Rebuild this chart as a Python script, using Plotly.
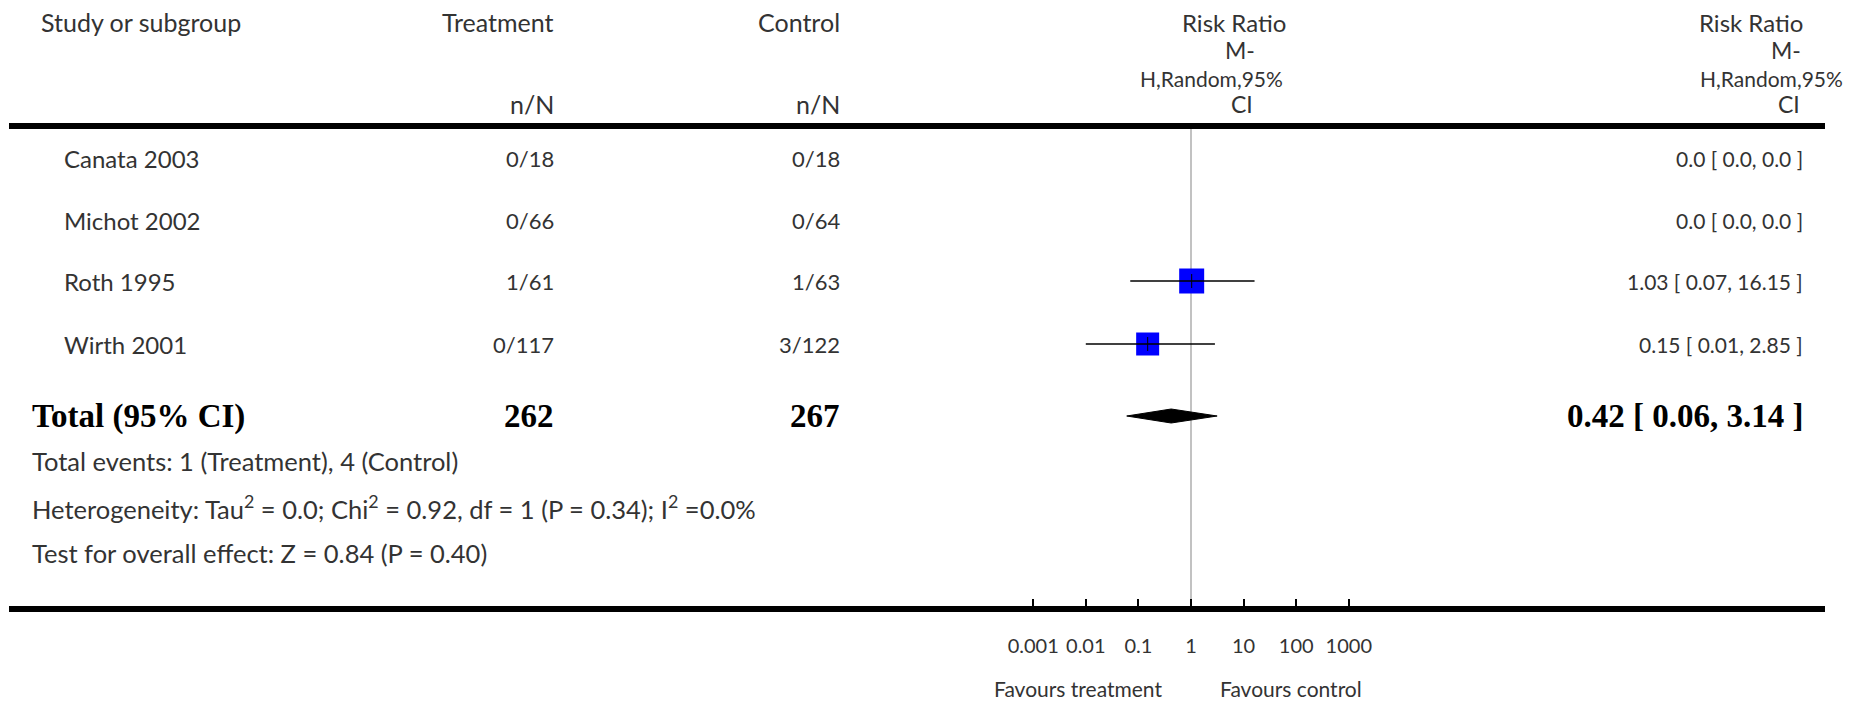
import plotly.graph_objects as go

# ---------------- data ----------------
studies = ["Canata 2003", "Michot 2002", "Roth 1995", "Wirth 2001"]
treat_nN = ["0/18", "0/66", "1/61", "0/117"]
ctrl_nN = ["0/18", "0/64", "1/63", "3/122"]
rr = [None, None, 1.03, 0.15]
rr_lo = [None, None, 0.07, 0.01]
rr_hi = [None, None, 16.15, 2.85]
box_size = [0, 0, 25, 23]
ci_text = ["0.0 [ 0.0, 0.0 ]", "0.0 [ 0.0, 0.0 ]", "1.03 [ 0.07, 16.15 ]", "0.15 [ 0.01, 2.85 ]"]

total_label = "Total (95% CI)"
total_treat = "262"
total_ctrl = "267"
total_rr = 0.42
total_lo = 0.06
total_hi = 3.14
total_text = "0.42 [ 0.06, 3.14 ]"

footnotes = [
    "Total events: 1 (Treatment), 4 (Control)",
    "Heterogeneity: Tau<sup>2</sup> = 0.0; Chi<sup>2</sup> = 0.92, df = 1 (P = 0.34); I<sup>2</sup> =0.0%",
    "Test for overall effect: Z = 0.84 (P = 0.40)",
]

tick_vals = [0.001, 0.01, 0.1, 1, 10, 100, 1000]
tick_text = ["0.001", "0.01", "0.1", "1", "10", "100", "1000"]

# ---------------- layout helpers ----------------
W, H = 1862, 702
FONT = "Lato, 'Open Sans', sans-serif"
SERIF = "'Liberation Serif', 'DejaVu Serif', serif"
TXT = "#333333"

x_one = 1191.0       # pixel of RR = 1
decade = 52.6        # pixels per decade
r0 = -x_one / decade
r1 = r0 + W / decade

row_y = [158, 220, 281, 344]
total_y = 416
foot_y = [461, 507, 553]
top_line_y = 126
axis_y = 609

fig = go.Figure()

# vertical reference line at RR = 1
fig.add_trace(go.Scatter(x=[1, 1], y=[top_line_y, axis_y], mode="lines",
                         line=dict(color="#999999", width=1.2), hoverinfo="skip", showlegend=False))

# study boxes and CIs
for i in range(len(studies)):
    if rr[i] is None:
        continue
    y = row_y[i]
    fig.add_trace(go.Scatter(x=[rr[i]], y=[y], mode="markers",
                             marker=dict(symbol="square", size=box_size[i], color="#0000FF",
                                         line=dict(width=0)),
                             hoverinfo="skip", showlegend=False))
    fig.add_trace(go.Scatter(x=[rr_lo[i], rr_hi[i]], y=[y, y], mode="lines",
                             line=dict(color="black", width=1.6), hoverinfo="skip", showlegend=False))
    fig.add_trace(go.Scatter(x=[rr[i]], y=[y], mode="markers",
                             marker=dict(symbol="line-ns", size=10,
                                         line=dict(width=1.0, color="black")),
                             hoverinfo="skip", showlegend=False))

# diamond for total
dh = 7
fig.add_trace(go.Scatter(x=[total_lo, total_rr, total_hi, total_rr, total_lo],
                         y=[total_y, total_y - dh, total_y, total_y + dh, total_y],
                         mode="lines", fill="toself", fillcolor="black",
                         line=dict(color="black", width=1), hoverinfo="skip", showlegend=False))

ann = []

def px(x):
    return x / W

def add(text, x, y, anchor="left", size=24, family=FONT, color=TXT):
    ann.append(dict(text=text, x=px(x), y=y, xref="paper", yref="y", xanchor=anchor,
                    yanchor="middle", showarrow=False,
                    font=dict(family=family, size=size, color=color)))

# header
add("Study or subgroup", 39, 22, size=25)
add("Treatment", 556, 22, "right", size=25)
add("Control", 842, 22, "right", size=25)
add("n/N", 556, 104, "right", size=25)
add("n/N", 842, 104, "right", size=25)
for txt, cx, y, sz in [("Risk Ratio", 1234, 22, 24), ("M-", 1240, 50, 23),
                       ("H,Random,95%", 1211, 78, 21), ("CI", 1242, 104, 23)]:
    add(txt, cx, y, "center", size=sz)
for txt, rx, y, sz in [("Risk Ratio", 1805, 22, 24), ("M-", 1803, 50, 23),
                       ("H,Random,95%", 1845, 78, 21), ("CI", 1802, 104, 23)]:
    add(txt, rx, y, "right", size=sz)

# study rows
for i, s in enumerate(studies):
    add(s, 62, row_y[i], size=24)
    add(treat_nN[i], 556, row_y[i], "right", size=22)
    add(ctrl_nN[i], 842, row_y[i], "right", size=22)
    add(ci_text[i], 1805, row_y[i], "right", size=21)

# total row
add("<b>" + total_label + "</b>", 30, total_y, size=33, family=SERIF, color="black")
add("<b>" + total_treat + "</b>", 556, total_y, "right", size=33, family=SERIF, color="black")
add("<b>" + total_ctrl + "</b>", 842, total_y, "right", size=33, family=SERIF, color="black")
add("<b>" + total_text + "</b>", 1805, total_y, "right", size=33, family=SERIF, color="black")

for t, y in zip(footnotes, foot_y):
    add(t, 30, y, size=25.5)

# favours labels
add("Favours treatment", 1164, 688, "right", size=21)
add("Favours control", 1218, 688, "left", size=21)

shapes = [
    dict(type="line", xref="paper", yref="y", x0=px(9), x1=px(1825), y0=top_line_y, y1=top_line_y,
         line=dict(color="black", width=6)),
    dict(type="line", xref="paper", yref="y", x0=px(9), x1=px(1825), y0=axis_y, y1=axis_y,
         line=dict(color="black", width=6)),
]

fig.update_layout(
    width=W, height=H, margin=dict(l=0, r=0, t=0, b=0),
    paper_bgcolor="white", plot_bgcolor="white",
    annotations=ann, shapes=shapes, showlegend=False,
    xaxis=dict(type="log", range=[r0, r1], domain=[0, 1], anchor="free",
               position=(H - axis_y) / H, showgrid=False, zeroline=False, showline=False,
               ticks="inside", ticklen=10, tickwidth=2, tickcolor="black",
               tickvals=tick_vals, ticktext=tick_text, ticklabelstandoff=23,
               tickfont=dict(family=FONT, size=20, color=TXT), fixedrange=True),
    yaxis=dict(range=[H, 0], visible=False, fixedrange=True),
)

fig.write_html("out.html", config={"displayModeBar": False},
               post_script="document.body.style.margin='0';document.body.style.overflow='hidden';")
